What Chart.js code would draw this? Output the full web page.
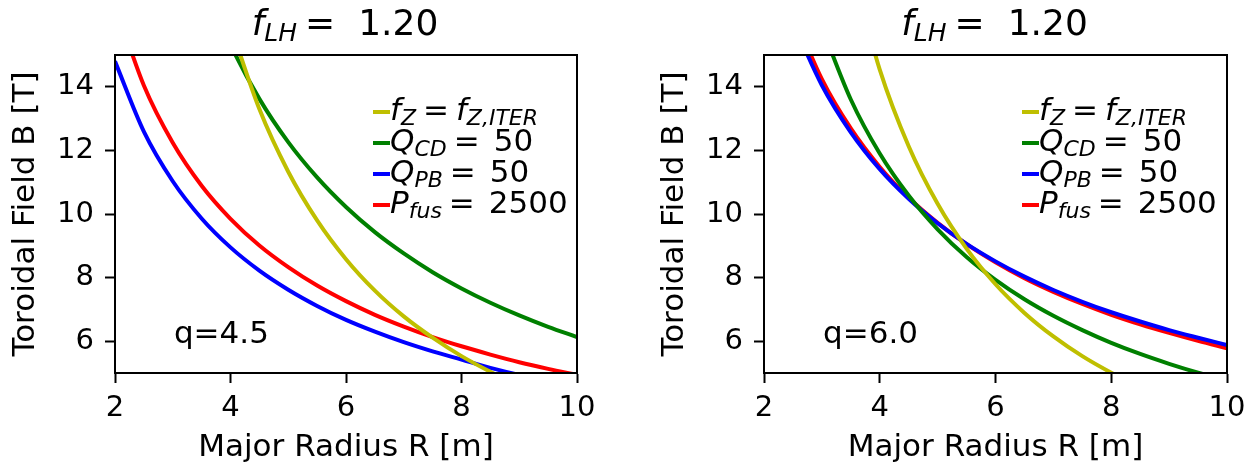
<!DOCTYPE html>
<html>
<head>
<meta charset="utf-8">
<script src="https://cdn.jsdelivr.net/npm/chart.js@4.4.0/dist/chart.umd.min.js"></script>
<style>
  body { margin: 0; background: #fff; }
  .wrap { position: absolute; top: 0; height: 472px; }
  #w1 { left: 0; width: 649px; }
  #w2 { left: 649px; width: 609px; }
</style>
</head>
<body>
<div class="wrap" id="w1"><canvas id="c1"></canvas></div>
<div class="wrap" id="w2"><canvas id="c2"></canvas></div>
<script>
// major radius R [m]
const radius = [2, 2.5, 3, 3.5, 4, 4.5, 5, 5.5, 6, 6.5, 7, 7.5, 8, 8.5, 9, 9.5, 10];
const xTicks = [2, 4, 6, 8, 10];
const yTicks = [6, 8, 10, 12, 14];
const fLH = '1.20';
const colors = ['#bfbf00', '#008000', '#0000ff', '#ff0000'];

// q = 4.5  (toroidal field B [T])
const fz45   = [null, null, null, null, 15.92, 13.30, 11.33, 9.80, 8.58, 7.59, 6.78, 6.11, 5.53, 5.04, 4.62, null, null];
const qcd45  = [null, null, null, 17.51, 15.33, 13.62, 12.26, 11.15, 10.22, 9.43, 8.76, 8.17, 7.66, 7.21, 6.81, 6.45, 6.13];
const qpb45  = [14.80, 12.59, 11.03, 9.86, 8.95, 8.22, 7.62, 7.11, 6.67, 6.30, 5.97, 5.68, 5.42, 5.16, 4.94, 4.76, null];
const pfus45 = [16.61, 14.04, 12.24, 10.89, 9.85, 9.01, 8.33, 7.75, 7.26, 6.83, 6.46, 6.13, 5.84, 5.58, 5.34, 5.13, 4.94];

// q = 6.0
const fz60   = [null, null, null, 17.86, 14.54, 12.13, 10.32, 8.91, 7.79, 6.89, 6.15, 5.53, 5.01, 4.56, null, null, null];
const qcd60  = [null, null, 15.87, 13.60, 11.90, 10.58, 9.52, 8.65, 7.93, 7.32, 6.80, 6.35, 5.95, 5.60, 5.29, 5.01, 4.76];
const qpb60  = [null, 16.03, 14.05, 12.57, 11.41, 10.48, 9.71, 9.06, 8.51, 8.03, 7.61, 7.24, 6.91, 6.62, 6.35, 6.11, 5.88];
const pfus60 = [null, 16.33, 14.24, 12.69, 11.48, 10.51, 9.72, 9.05, 8.48, 7.98, 7.55, 7.17, 6.83, 6.53, 6.26, 6.01, 5.78];

const FONT = '"DejaVu Sans"';
Chart.defaults.font.family = FONT;
Chart.defaults.color = '#000';

// legend labels with subscripts: {t, s(size), it(italic), dy}, numbers are gaps
const legendParts = [
  [{t: 'f', s: 31, it: 1}, {t: 'Z', s: 22, it: 1, dy: 5}, 7, {t: '=', s: 31}, 7, {t: 'f', s: 31, it: 1}, {t: 'Z,ITER', s: 22, it: 1, dy: 5}],
  [{t: 'Q', s: 31, it: 1}, {t: 'CD', s: 22, it: 1, dy: 5}, 7, {t: '=', s: 31}, 14, {t: '50', s: 31}],
  [{t: 'Q', s: 31, it: 1}, {t: 'PB', s: 22, it: 1, dy: 5}, 7, {t: '=', s: 31}, 14, {t: '50', s: 31}],
  [{t: 'P', s: 31, it: 1}, {t: 'fus', s: 22, it: 1, dy: 5}, 7, {t: '=', s: 31}, 14, {t: '2500', s: 31}]
];
const titleParts = [{t: 'f', s: 36, it: 1}, {t: 'LH', s: 25, it: 1, dy: 6}, 8, {t: '=', s: 36}, 23, {t: fLH, s: 36}];

function rich(ctx, parts, x, y, draw) {
  for (const p of parts) {
    if (typeof p === 'number') { x += p; continue; }
    ctx.font = (p.it ? 'italic ' : '') + p.s + 'px ' + FONT;
    if (draw) ctx.fillText(p.t, x, y + (p.dy || 0));
    x += ctx.measureText(p.t).width;
  }
  return x;
}

const decor = {
  id: 'decor',
  afterDatasetsDraw(chart, args, opts) {
    const ctx = chart.ctx;
    const a = chart.chartArea;
    ctx.save();
    // frame
    ctx.strokeStyle = '#000';
    ctx.lineWidth = 2;
    ctx.strokeRect(a.left, a.top, a.right - a.left, a.bottom - a.top);
    ctx.fillStyle = '#000';
    ctx.textBaseline = 'alphabetic';
    ctx.textAlign = 'left';
    // title
    const w = rich(ctx, titleParts, 0, 0, false);
    rich(ctx, titleParts, (a.left + a.right) / 2 - 1 - w / 2, 35, true);
    // legend
    legendParts.forEach((parts, i) => {
      const base = a.top + 64.5 + i * 31;
      const hx = a.left + 258;
      ctx.strokeStyle = colors[i];
      ctx.lineWidth = 4;
      ctx.beginPath();
      ctx.moveTo(hx, base - 7.5);
      ctx.lineTo(hx + 17, base - 7.5);
      ctx.stroke();
      rich(ctx, parts, hx + 17, base, true);
    });
    // q annotation
    const xs = chart.scales.x, ys = chart.scales.y;
    ctx.font = '31px ' + FONT;
    ctx.fillText(opts.label, xs.getPixelForValue(opts.at[0]), ys.getPixelForValue(opts.at[1]));
    ctx.restore();
  }
};

function makeChart(id, rightPad, series, qLabel) {
  const names = ['fz', 'qcd', 'qpb', 'pfus'];
  const datasets = series.map((vals, i) => ({
    label: names[i],
    data: radius.map((r, k) => ({x: r, y: vals[k]})),
    borderColor: colors[i],
    borderWidth: 4,
    pointRadius: 0,
    fill: false,
    cubicInterpolationMode: 'monotone',
    clip: 0
  }));
  return new Chart(document.getElementById(id), {
    type: 'line',
    data: {datasets: datasets},
    options: {
      responsive: true,
      maintainAspectRatio: false,
      animation: false,
      layout: {padding: {top: 55, right: rightPad, left: 0, bottom: 0}},
      plugins: {
        legend: {display: false},
        tooltip: {enabled: false},
        decor: {label: qLabel, at: [3.02, 5.94]}
      },
      scales: {
        x: {
          type: 'linear', min: 2, max: 10,
          afterBuildTicks: s => { s.ticks = xTicks.map(v => ({value: v})); },
          afterFit: s => { s.height = 99; },
          ticks: {font: {size: 29}, padding: 8, color: '#000'},
          grid: {display: true, drawOnChartArea: false, tickLength: 10, tickWidth: 2, tickColor: '#000'},
          border: {display: true, color: '#000', width: 2},
          title: {display: true, text: 'Major Radius R [m]', font: {size: 31, lineHeight: 1.2}, padding: {top: 0, bottom: 5}, color: '#000'}
        },
        y: {
          type: 'linear', min: 5, max: 15,
          afterBuildTicks: s => { s.ticks = yTicks.map(v => ({value: v})); },
          afterFit: s => { s.width = 115; },
          ticks: {font: {size: 29}, padding: 11, color: '#000'},
          grid: {display: true, drawOnChartArea: false, tickLength: 10, tickWidth: 2, tickColor: '#000'},
          border: {display: true, color: '#000', width: 2},
          title: {display: true, text: 'Toroidal Field B [T]', font: {size: 31, lineHeight: 1.2}, padding: {top: 7, bottom: 0}, color: '#000'}
        }
      }
    },
    plugins: [decor]
  });
}

makeChart('c1', 72, [fz45, qcd45, qpb45, pfus45], 'q=4.5');
makeChart('c2', 31, [fz60, qcd60, qpb60, pfus60], 'q=6.0');
</script>
</body>
</html>
